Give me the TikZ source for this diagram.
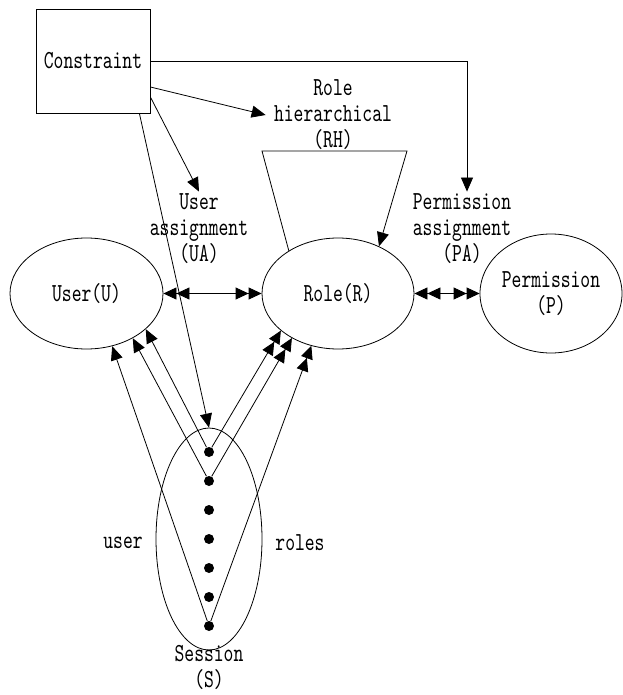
\documentclass[tikz,border=0pt]{standalone}
\usepackage{fontspec}
\usetikzlibrary{shapes.geometric,arrows.meta}
\newfontfamily\diagfont[FakeStretch=0.72]{lmmono10-regular.otf}

\begin{document}
\begin{tikzpicture}[x=1pt, y=-1pt, line width=0.8pt,
  font=\diagfont\fontsize{26}{26}\selectfont,
  every node/.style={align=center, inner sep=2pt},
  box/.style={draw, rectangle, minimum width=114pt, minimum height=104pt},
  oval/.style={draw, ellipse, inner sep=0pt},
  dot/.style={fill, circle, inner sep=0pt, minimum size=10pt},
  tip/.style={-{Triangle[length=14pt,width=12pt]}},
  dbl/.style={{Triangle[length=13pt,width=12pt]Triangle[length=13pt,width=12pt]}-{Triangle[length=13pt,width=12pt]Triangle[length=13pt,width=12pt]}},
  tip2/.style={-{Triangle[length=13pt,width=12pt]Triangle[length=13pt,width=12pt]}}
]
\useasboundingbox (0,0) rectangle (622,695);

\node[box] (con) at (93,61) {Constraint};
\node[oval, minimum width=153pt, minimum height=111pt] (user) at (86.5,293.5) {User(U)};
\node[oval, minimum width=152pt, minimum height=111pt] (role) at (338,293.5) {Role(R)};
\node[oval, minimum width=142pt, minimum height=119pt] (perm) at (551,293.5) {Permission\\(P)};
\node[oval, minimum width=106pt, minimum height=222pt] (ses) at (209,539) {};

% labels
\node (ua) at (199,229) {User\\assignment\\(UA)};
\node (rh) at (333,115) {Role\\hierarchical\\(RH)};
\node (pa) at (462,229) {Permission\\assignment\\(PA)};
\node (lu) at (123,543) {user};
\node (lr) at (300,543) {roles};
\node (ls) at (209,667) {Session\\(S)};

% session entries
\foreach \i in {1,...,7}
  \node[dot] (d\i) at (209,{452+29*(\i-1)}) {};

\coordinate (rhl) at (262,151);
\coordinate (rhr) at (407,151);

\draw[tip] (con.east) -| ([xshift=5pt]pa.north);
\draw[tip] ([yshift=-26pt]con.east) -- ([xshift=-6pt]rh.west);
\draw[tip] ([yshift=-36pt]con.east) -- (ua.north);
\draw[tip] ([xshift=-11pt]con.south east) -- (ses.north);
\draw[tip] (role.139) -- (rhl) -- (rhr) -- (role.49);

\draw[dbl] (user.east) -- (role.west);
\draw[dbl] (role.east) -- (perm.west);

\draw[tip] (d1) -- (user.-31);
\draw[tip] (d2) -- (user.-44);
\draw[tip] (d7) -- (user.-64);
\draw[tip2] (d1) -- (role.-147);
\draw[tip2] (d2) -- (role.-136);
\draw[tip2] (d7) -- (role.-117);
\end{tikzpicture}
\end{document}
